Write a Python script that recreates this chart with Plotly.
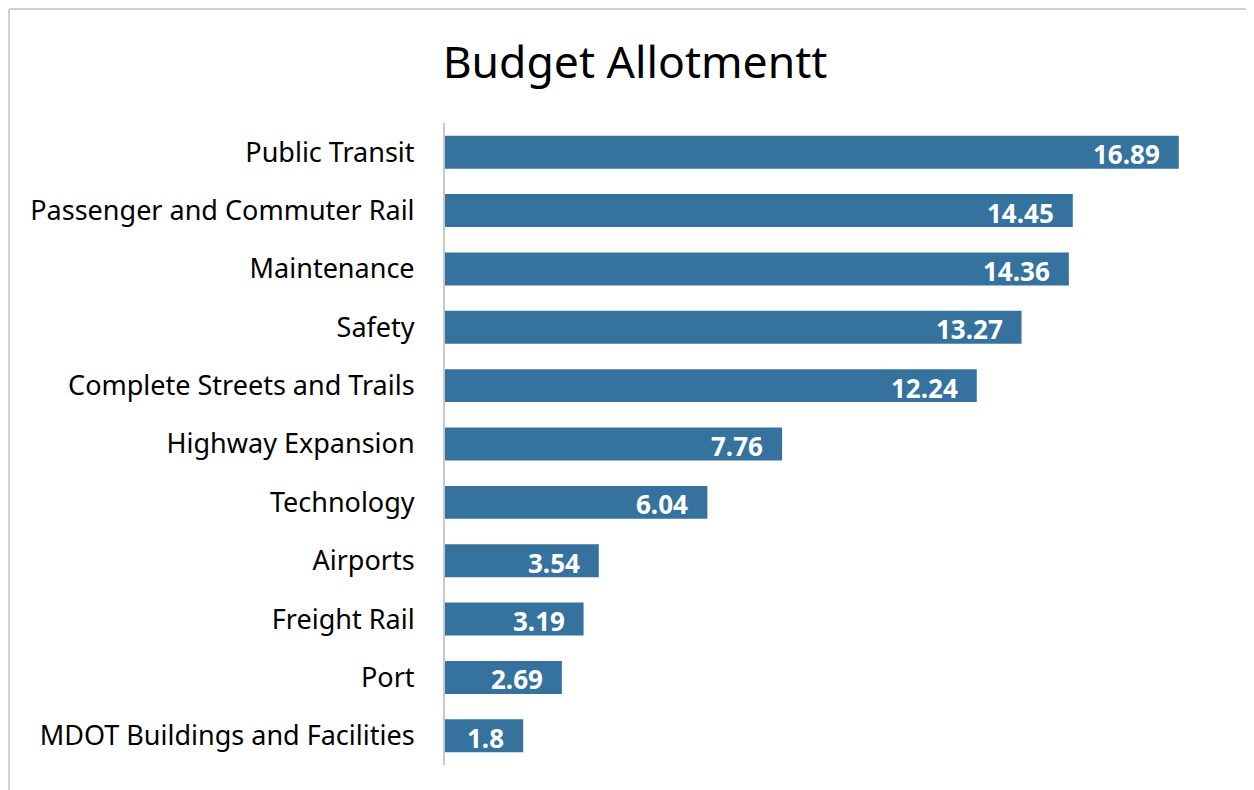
import plotly.graph_objects as go

categories = ["Public Transit", "Passenger and Commuter Rail", "Maintenance", "Safety",
              "Complete Streets and Trails", "Highway Expansion", "Technology", "Airports",
              "Freight Rail", "Port", "MDOT Buildings and Facilities"]
values = [16.89, 14.45, 14.36, 13.27, 12.24, 7.76, 6.04, 3.54, 3.19, 2.69, 1.8]
title_text = "Budget Allotmentt"

BAR = "#36729e"
FONT = "Noto Sans, Open Sans, sans-serif"

fig = go.Figure(go.Bar(
    x=values, y=categories, orientation="h",
    marker=dict(color=BAR, line=dict(width=0)),
    width=0.565, hoverinfo="skip",
))

for c, v in zip(categories, values):
    fig.add_annotation(x=v, y=c, text=f"<b>{v:g}</b>", showarrow=False,
                       xanchor="right", xshift=-17, yshift=-2,
                       font=dict(family=FONT, size=26, color="white"))

# chart-area frame: only top and left edges are visible in the picture
frame = dict(color="#d0d0d0", width=2)
fig.add_shape(type="line", xref="paper", yref="paper",
              x0=-0.5575, x1=2.0, y0=1.1775, y1=1.1775, line=frame, layer="below")
fig.add_shape(type="line", xref="paper", yref="paper",
              x0=-0.5575, x1=-0.5575, y0=-0.5, y1=1.1775, line=frame, layer="below")

fig.update_layout(
    width=1254, height=790,
    margin=dict(l=437, r=35, t=115, b=33),
    paper_bgcolor="white", plot_bgcolor="white",
    title=dict(text=title_text, x=0.5, xanchor="center", y=0.931, yanchor="middle",
               font=dict(family=FONT, size=44.5, color="black")),
    xaxis=dict(range=[0, 18], visible=False, fixedrange=True),
    yaxis=dict(autorange="reversed", showline=True, linecolor="#c8c8c8", linewidth=2,
               ticks="", showgrid=False, ticklabelstandoff=23,
               tickfont=dict(family=FONT, size=27, color="black")),
    showlegend=False,
)

fig.write_html("out.html")
